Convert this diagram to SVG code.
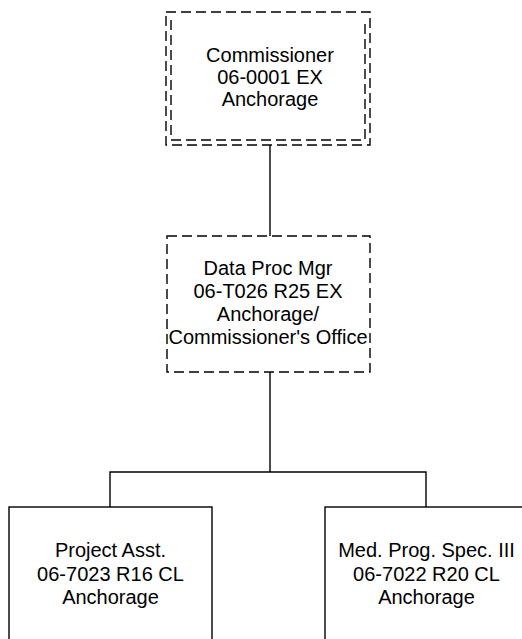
<svg xmlns="http://www.w3.org/2000/svg" width="522" height="639" viewBox="0 0 522 639">
<style>
.box{fill:#fff;stroke:#000;stroke-width:1.4}
.dash{stroke-dasharray:10,5}
.lbl{font-family:"Liberation Sans",Arial,sans-serif;font-size:20px;fill:#000;text-anchor:middle}
.conn{fill:none;stroke:#000;stroke-width:1.4}
</style>
<rect width="522" height="639" fill="#fff"/>
<g id="connectors">
<path class="conn" d="M270,145 V236"/>
<path class="conn" d="M270,372 V472 M110,507 V472 H426 V507"/>
</g>
<g id="commissioner">
<rect class="box dash" x="166" y="12" width="204" height="133"/>
<path class="conn dash" d="M171,20 V140 H365 V20"/>
<text class="lbl" x="270" y="62">Commissioner</text>
<text class="lbl" x="270" y="84">06-0001 EX</text>
<text class="lbl" x="270" y="106">Anchorage</text>
</g>
<g id="dataproc">
<rect class="box dash" x="167" y="236" width="203" height="136"/>
<text class="lbl" x="268" y="275">Data Proc Mgr</text>
<text class="lbl" x="268" y="298">06-T026 R25 EX</text>
<text class="lbl" x="268" y="321">Anchorage/</text>
<text class="lbl" x="268" y="344">Commissioner's Office</text>
</g>
<g id="projectasst">
<rect class="box" x="9" y="507" width="203" height="140"/>
<text class="lbl" x="110.5" y="557">Project Asst.</text>
<text class="lbl" x="110.5" y="581">06-7023 R16 CL</text>
<text class="lbl" x="110.5" y="604">Anchorage</text>
</g>
<g id="medprog">
<rect class="box" x="325" y="507" width="203" height="140"/>
<text class="lbl" x="426.5" y="557">Med. Prog. Spec. III</text>
<text class="lbl" x="426.5" y="581">06-7022 R20 CL</text>
<text class="lbl" x="426.5" y="604">Anchorage</text>
</g>
</svg>
